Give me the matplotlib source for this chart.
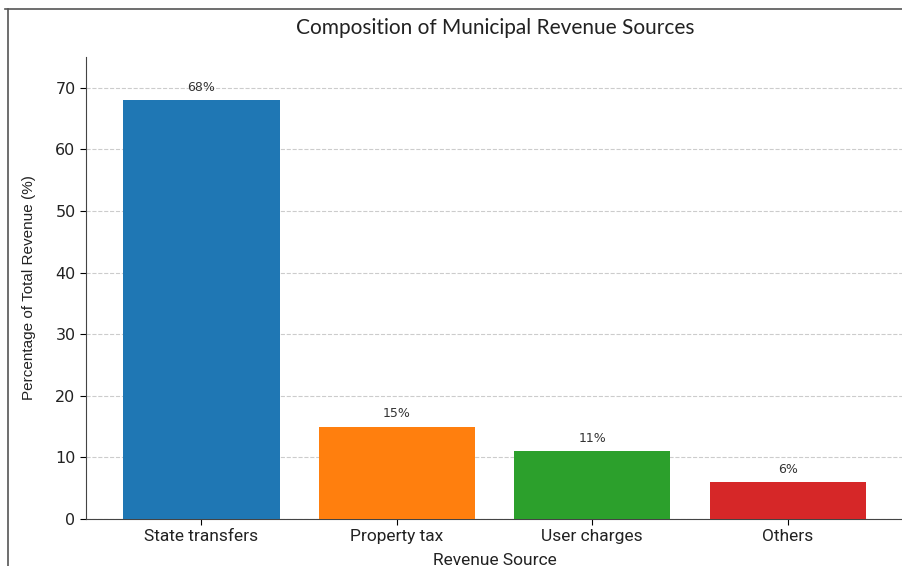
import matplotlib
matplotlib.use("Agg")
import matplotlib.pyplot as plt
from matplotlib.lines import Line2D

categories = ["State transfers", "Property tax", "User charges", "Others"]
values = [68, 15, 11, 6]
labels = ["68%", "15%", "11%", "6%"]
colors = ["#1f77b4", "#ff7f0e", "#2ca02c", "#d62728"]
yticks = [0, 10, 20, 30, 40, 50, 60, 70]

plt.rcParams['font.family'] = ['Roboto', 'DejaVu Sans']
txt = "#222222"

fig = plt.figure(figsize=(9.03, 5.66), dpi=100)
ax = fig.add_axes([86/903, 1-519/566, 1-86/903, (519-57)/566])

ax.bar(range(len(categories)), values, width=0.8, color=colors, zorder=3)
for i, (v, l) in enumerate(zip(values, labels)):
    ax.text(i, v + 1.0, l, ha='center', va='bottom', fontsize=9, color='#333333', zorder=4,
            family=['DejaVu Sans'])

ax.set_xlim(-0.59, 3.59)
ax.set_ylim(0, 75)
ax.set_yticks(yticks)
ax.set_yticklabels([str(t) for t in yticks], family=['DejaVu Sans'], fontsize=11.5, color=txt)
ax.set_xticks(range(len(categories)))
ax.set_xticklabels(categories, fontsize=12.5, color=txt)
ax.tick_params(axis='y', length=4)
ax.tick_params(axis='x', length=4)
ax.grid(axis='y', linestyle='--', color='#cccccc', linewidth=0.8, zorder=0)
for s in ['top', 'right']:
    ax.spines[s].set_visible(False)
for s in ['left', 'bottom']:
    ax.spines[s].set_color('#444444')

ax.set_xlabel("Revenue Source", fontsize=12.5, color=txt, labelpad=6)
ax.set_ylabel("Percentage of Total Revenue (%)", fontsize=11, color=txt,
              family=['Liberation Sans Narrow', 'Liberation Sans', 'DejaVu Sans'], labelpad=14)
fig.text(495/903, 1-28/566, "Composition of Municipal Revenue Sources", ha='center', va='center',
         fontsize=15, color=txt, family=['Lato', 'DejaVu Sans'])

# screenshot frame
fig.add_artist(Line2D([5/903, 1], [1-9/566, 1-9/566], color='#555555', linewidth=1.2, transform=fig.transFigure))
fig.add_artist(Line2D([8/903, 8/903], [0, 1-9/566], color='#555555', linewidth=1.2, transform=fig.transFigure))

fig.savefig("out.png", dpi=100)
